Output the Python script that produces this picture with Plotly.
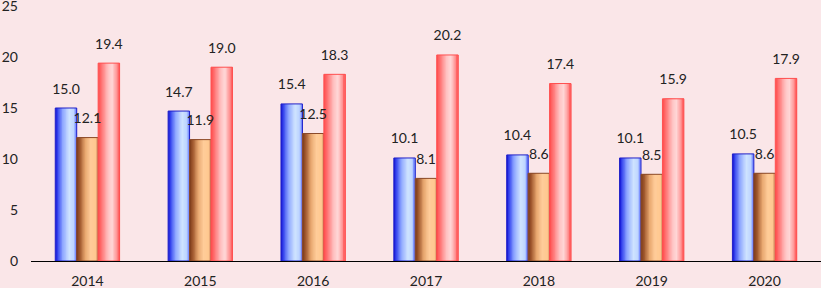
import plotly.graph_objects as go

years = ["2014", "2015", "2016", "2017", "2018", "2019", "2020"]
series_a = [15.0, 14.7, 15.4, 10.1, 10.4, 10.1, 10.5]
series_b = [12.1, 11.9, 12.5, 8.1, 8.6, 8.5, 8.6]
series_c = [19.4, 19.0, 18.3, 20.2, 17.4, 15.9, 17.9]
y_ticks = [0, 5, 10, 15, 20, 25]

BG = "#FAE6E8"
FONT = "Lato"
W = 0.19
N = 16

styles = [
    (series_a, -0.285, "#2020C8",
     [(0, (16, 16, 208)), (0.12, (58, 74, 240)), (0.35, (143, 168, 255)),
      (0.65, (207, 227, 255)), (0.85, (190, 214, 255)), (1.0, (110, 132, 255))]),
    (series_b, -0.095, "#8B4A2A",
     [(0, (122, 58, 26)), (0.15, (160, 88, 46)), (0.4, (232, 168, 112)),
      (0.65, (255, 204, 153)), (0.9, (255, 200, 144)), (1.0, (224, 160, 112))]),
    (series_c, 0.095, "#FF5050",
     [(0, (255, 74, 74)), (0.15, (255, 112, 112)), (0.45, (255, 192, 192)),
      (0.65, (255, 216, 216)), (0.85, (255, 154, 154)), (1.0, (255, 90, 90))]),
]


def interp(stops, t):
    for (t0, c0), (t1, c1) in zip(stops, stops[1:]):
        if t0 <= t <= t1:
            f = (t - t0) / (t1 - t0) if t1 > t0 else 0
            c = [round(a + (b - a) * f) for a, b in zip(c0, c1)]
            return "rgb(%d,%d,%d)" % tuple(c)
    return "rgb(%d,%d,%d)" % stops[-1][1]


xs = list(range(len(years)))
fig = go.Figure()
for vals, off, edge, stops in styles:
    dw = W / N
    for i in range(N):
        t = (i + 0.5) / N
        fig.add_trace(go.Bar(
            x=xs, y=vals, offset=off + i * dw, width=W - i * dw,
            marker=dict(color=interp(stops, t), line=dict(width=0)),
            showlegend=False, hoverinfo="skip"))
    fig.add_trace(go.Bar(
        x=xs, y=vals, offset=off, width=W,
        marker=dict(color="rgba(0,0,0,0)", line=dict(color=edge, width=1)),
        showlegend=False, hoverinfo="skip"))
    fig.add_trace(go.Scatter(
        x=[x + off + W / 2 for x in xs], y=vals, mode="markers+text",
        text=["%.1f" % v for v in vals], textposition="top center",
        textfont=dict(family=FONT, size=14, color="#222222"),
        marker=dict(size=16, opacity=0), showlegend=False, hoverinfo="skip",
        cliponaxis=False))

fig.update_layout(
    width=821, height=288, barmode="overlay",
    paper_bgcolor=BG, plot_bgcolor=BG,
    margin=dict(l=31, r=0, t=6, b=27),
    font=dict(family=FONT, size=14, color="#222222"),
)
fig.update_xaxes(range=[-0.5, 6.5], tickvals=xs, ticktext=years,
                 showgrid=False, zeroline=False, showline=True,
                 linecolor="#000000", linewidth=1, ticks="", fixedrange=True,
                 ticklabelstandoff=7, ticklabeloverflow="allow", automargin=False)
fig.update_yaxes(range=[0, 25], tickvals=y_ticks, showgrid=False,
                 zeroline=False, showline=False, ticks="", ticklabelstandoff=12,
                 ticklabeloverflow="allow", fixedrange=True, automargin=False)
fig.write_html("out.html", config={"displayModeBar": False},
               post_script="document.body.style.margin='0';document.body.style.background='%s';" % BG)
